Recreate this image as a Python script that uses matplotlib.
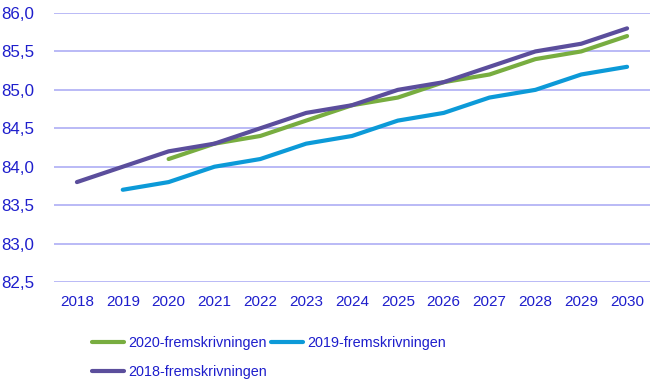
import matplotlib
matplotlib.use("Agg")
import matplotlib.pyplot as plt
import numpy as np

years = [str(y) for y in range(2018, 2031)]

# series values (NaN where the projection has no value)
fram_2020 = [np.nan, np.nan, 84.1, 84.3, 84.4, 84.6, 84.8, 84.9, 85.1, 85.2, 85.4, 85.5, 85.7]
fram_2019 = [np.nan, 83.7, 83.8, 84.0, 84.1, 84.3, 84.4, 84.6, 84.7, 84.9, 85.0, 85.2, 85.3]
fram_2018 = [83.8, 84.0, 84.2, 84.3, 84.5, 84.7, 84.8, 85.0, 85.1, 85.3, 85.5, 85.6, 85.8]

y_ticks = [82.5, 83.0, 83.5, 84.0, 84.5, 85.0, 85.5, 86.0]

TXT = "#1E1ECC"
GRID = "#B4B4F6"

plt.rcParams["font.family"] = ["Liberation Sans", "DejaVu Sans"]

fig = plt.figure(figsize=(6.55, 3.89), dpi=100)
ax = fig.add_axes([54 / 655, 1 - 282 / 389, (650 - 54) / 655, (282 - 13) / 389])

x = np.arange(len(years))
l20, = ax.plot(x, fram_2020, color="#78AD40", linewidth=3.0, solid_capstyle="round",
               label="2020-fremskrivningen")
l19, = ax.plot(x, fram_2019, color="#0C9AD8", linewidth=3.0, solid_capstyle="round",
               label="2019-fremskrivningen")
l18, = ax.plot(x, fram_2018, color="#5B4E9C", linewidth=3.0, solid_capstyle="round",
               label="2018-fremskrivningen")

ax.set_xlim(-0.5, len(years) - 0.5)
ax.set_ylim(82.5, 86.0)
ax.set_xticks(x)
ax.set_xticklabels(years, fontsize=11)
ax.set_yticks(y_ticks)
ax.set_yticklabels([f"{v:.1f}".replace(".", ",") for v in y_ticks], fontsize=12.2)
ax.tick_params(axis="both", length=0, labelcolor=TXT)
ax.tick_params(axis="x", pad=9)
ax.tick_params(axis="y", pad=14)
ax.yaxis.grid(True, color=GRID, linewidth=1.3)
ax.set_axisbelow(True)
for s in ax.spines.values():
    s.set_visible(False)

# ordered so that ncol=2 fills rows like the reference
fig.legend(handles=[l20, l18, l19], ncol=2, frameon=False,
           loc="upper left", bbox_to_anchor=(85 / 655, 1 - 329 / 389),
           fontsize=10.4, labelcolor=TXT, handlelength=2.2, handletextpad=0.3,
           columnspacing=0.3, labelspacing=1.0, borderpad=0)

fig.savefig("out.png", dpi=100)
